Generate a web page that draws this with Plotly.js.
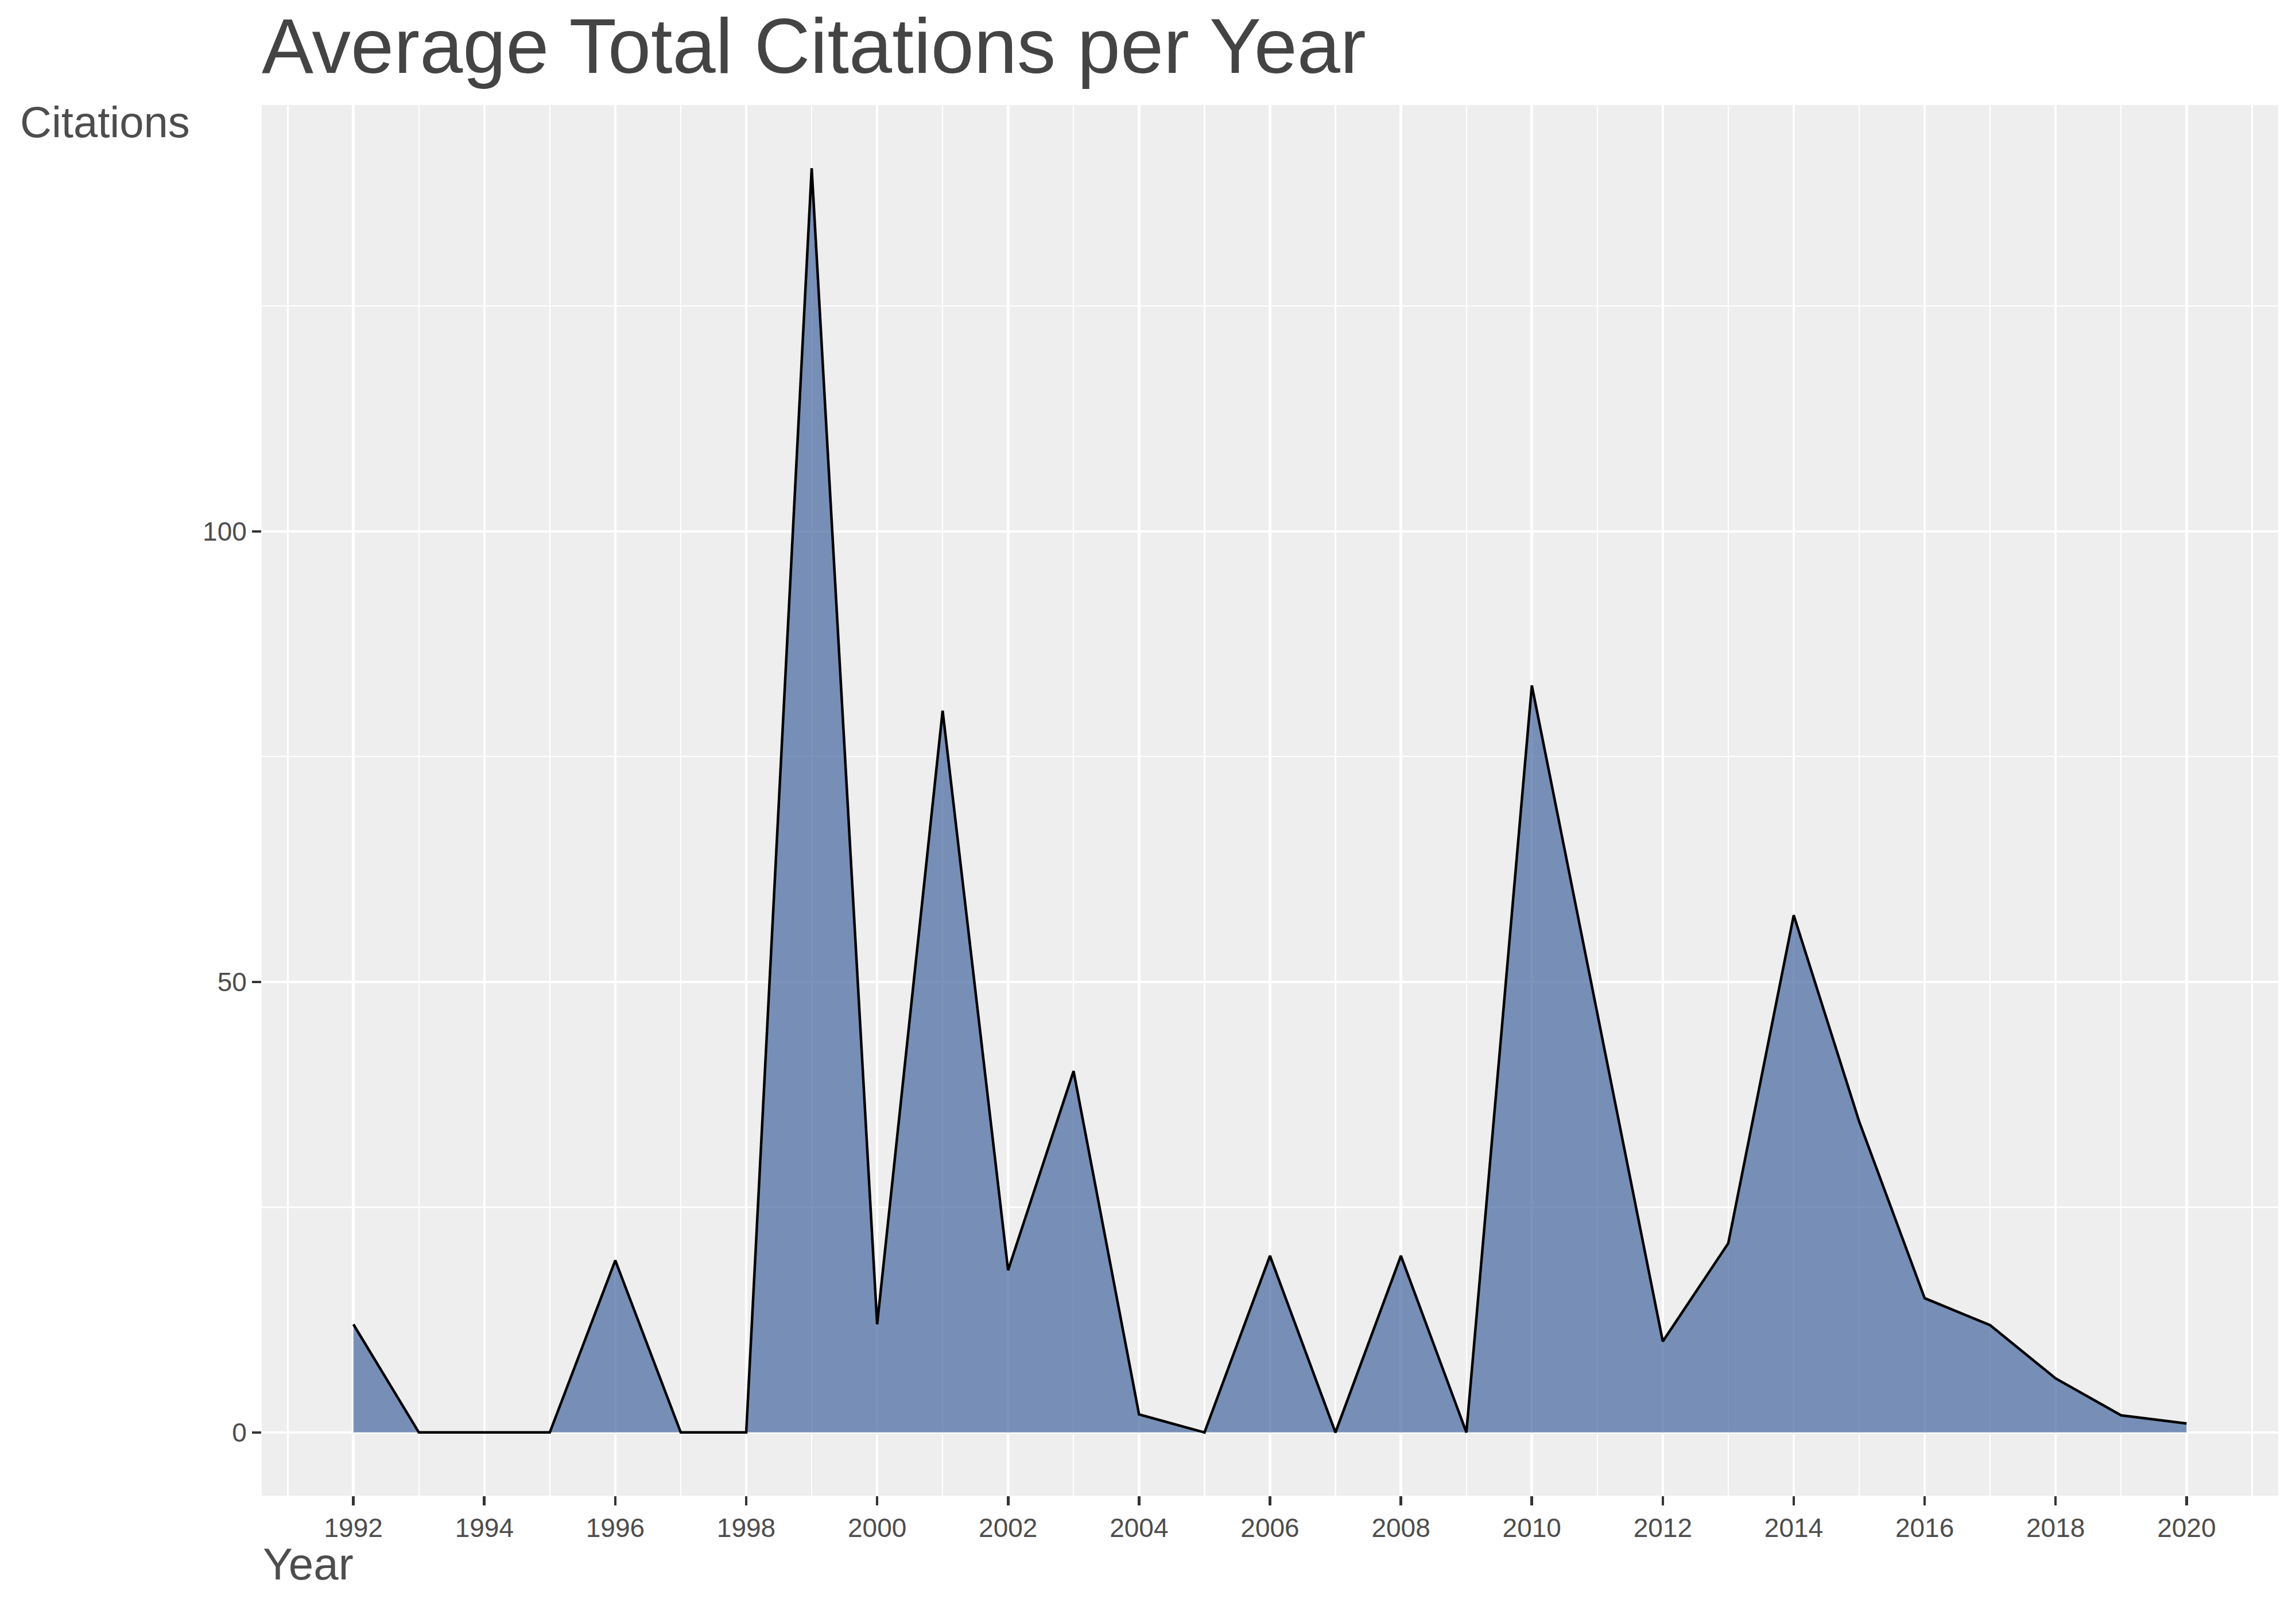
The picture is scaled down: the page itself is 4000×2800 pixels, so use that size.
<!DOCTYPE html>
<html>
<head>
<meta charset="utf-8">
<script src="https://cdn.plot.ly/plotly-3.0.1.min.js"></script>
<style>
  html, body { margin: 0; padding: 0; background: #ffffff; }
  #chart { width: 4000px; height: 2800px; }
</style>
</head>
<body>
<div id="chart"></div>
<script>
// ── Data ──────────────────────────────────────────────────────
var years = [1992, 1993, 1994, 1995, 1996, 1997, 1998, 1999, 2000, 2001,
             2002, 2003, 2004, 2005, 2006, 2007, 2008, 2009, 2010, 2011,
             2012, 2013, 2014, 2015, 2016, 2017, 2018, 2019, 2020];
var citations = [12, 0, 0, 0, 19.1, 0, 0, 140.3, 12, 80.1,
                 18, 40.1, 2, 0, 19.6, 0, 19.6, 0, 82.9, 46.5,
                 10.1, 21, 57.4, 34.5, 14.9, 11.9, 6, 1.9, 1];
var xTickYears = [1992, 1994, 1996, 1998, 2000, 2002, 2004, 2006, 2008, 2010,
                  2012, 2014, 2016, 2018, 2020];
var yTickVals = [0, 50, 100];

var FONT = 'Liberation Sans, Arial, sans-serif';
var W = 4000, H = 2800;
var M = { l: 456, r: 31, t: 183, b: 194 };

// ggplot-like 5% expansion
var xLo = years[0], xHi = years[years.length - 1];
var xPad = (xHi - xLo) * 0.05;
var yMax = Math.max.apply(null, citations);
var yPad = yMax * 0.05;

var trace = {
    x: years, y: citations, type: 'scatter', mode: 'lines',
    fill: 'tozeroy', fillcolor: 'rgba(69,102,159,0.70)',
    line: { color: '#000000', width: 4.5, shape: 'linear' },
    hoverinfo: 'x+y', showlegend: false
};

var layout = {
    width: W, height: H,
    margin: M,
    paper_bgcolor: '#ffffff', plot_bgcolor: '#EEEEEE',
    font: { family: FONT, color: '#4d4d4d' },
    title: {
        text: 'Average Total Citations per Year',
        font: { family: FONT, size: 135, color: '#444444' },
        xref: 'paper', x: 0, xanchor: 'left',
        yref: 'container', y: 1 - 80 / H, yanchor: 'middle'
    },
    xaxis: {
        range: [xLo - xPad, xHi + xPad],
        tickvals: xTickYears, ticktext: xTickYears.map(String),
        ticks: 'outside', ticklen: 16, tickwidth: 4.6, tickcolor: '#333333',
        tickfont: { family: FONT, size: 46, color: '#4d4d4d' },
        showgrid: true, gridcolor: '#ffffff', gridwidth: 4.5,
        minor: { dtick: 1, tick0: 1991, showgrid: true, gridcolor: '#ffffff', gridwidth: 2.3, ticks: '' },
        zeroline: false, showline: false, fixedrange: true
    },
    yaxis: {
        range: [-yPad, yMax + yPad],
        tickvals: yTickVals, ticktext: yTickVals.map(String),
        ticks: 'outside', ticklen: 16, tickwidth: 4.6, tickcolor: '#333333',
        tickfont: { family: FONT, size: 46, color: '#4d4d4d' },
        showgrid: true, gridcolor: '#ffffff', gridwidth: 4.5,
        minor: { dtick: 25, tick0: 25, showgrid: true, gridcolor: '#ffffff', gridwidth: 2.3, ticks: '' },
        zeroline: false, showline: false, fixedrange: true
    },
    annotations: [
        { text: 'Citations', xref: 'paper', yref: 'paper',
          x: (33 - M.l) / (W - M.l - M.r), xanchor: 'left',
          y: 1 + (M.t - 213) / (H - M.t - M.b), yanchor: 'middle',
          showarrow: false, font: { family: FONT, size: 76, color: '#4d4d4d' } },
        { text: 'Year', xref: 'paper', yref: 'paper',
          x: 0, xanchor: 'left',
          y: -(2725 - (H - M.b)) / (H - M.t - M.b), yanchor: 'middle',
          showarrow: false, font: { family: FONT, size: 78, color: '#4d4d4d' } }
    ],
    showlegend: false
};

Plotly.newPlot('chart', [trace], layout, { displayModeBar: false, staticPlot: true });
</script>
</body>
</html>
